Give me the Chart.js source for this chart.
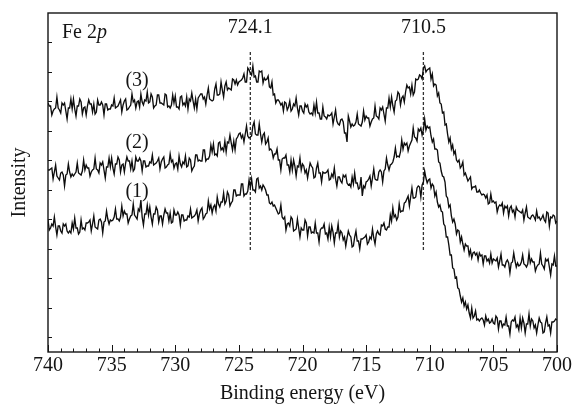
<!DOCTYPE html>
<html>
<head>
<meta charset="utf-8">
<script src="https://cdn.jsdelivr.net/npm/chart.js@4.4.1/dist/chart.umd.min.js"></script>
<style>
  html, body { margin: 0; padding: 0; background: #fff; }
  #wrap { width: 574px; height: 406px; }
</style>
</head>
<body>
<div id="wrap"><canvas id="c" width="574" height="406"></canvas></div>
<script>
// Binding energy grid (eV), 740 -> 700 in 0.1 eV steps
const E_START = 740, E_STEP = 0.1, N_POINTS = 401;
const energies = Array.from({length: N_POINTS}, (_, i) => +(E_START - E_STEP * i).toFixed(1));

// Intensity (arbitrary units, offset-stacked); one row = 1 eV
const series3 = [
 249,246,246,237,241,243,244,255,244,242,
 239,249,247,249,241,233,244,244,253,243,
 253,243,236,246,246,253,250,238,244,245,
 237,246,252,248,248,240,248,238,240,252,
 247,247,250,247,237,248,248,242,243,243,
 247,246,254,244,245,246,249,252,240,247,
 251,253,242,243,245,247,258,250,252,244,
 250,251,245,258,250,247,252,251,260,249,
 250,258,255,244,246,247,257,257,249,249,
 248,247,258,257,245,246,244,247,257,249,
 256,245,245,243,255,256,247,249,246,255,
 243,253,251,259,251,244,253,243,254,256,
 258,258,253,255,248,257,264,253,252,251,
 252,263,268,257,257,258,270,262,255,266,
 270,262,264,263,262,273,272,268,272,267,
 270,271,272,274,278,270,270,284,282,279,
 277,286,275,276,270,270,281,280,281,269,
 274,272,273,276,265,264,270,257,258,249,
 252,252,250,247,249,241,250,249,242,245,
 251,241,243,248,246,254,244,237,246,246,
 241,239,248,245,247,240,238,239,237,247,
 239,250,239,239,233,233,245,236,235,233,
 237,236,237,239,228,235,242,231,228,227,
 232,233,230,219,219,210,236,231,225,228,
 226,227,230,238,228,227,226,230,241,232,
 236,234,234,226,230,233,234,246,236,235,
 233,244,242,245,238,231,244,244,254,245,
 255,246,240,251,252,260,258,247,254,256,
 250,260,267,264,265,258,267,257,260,273,
 272,273,277,276,273,284,286,280,282,283,
 284,273,278,266,268,267,256,259,249,248,
 239,240,227,228,218,210,214,203,207,198,
 201,192,190,192,184,186,190,177,179,175,
 171,173,175,163,165,165,166,160,160,162,
 159,157,158,157,154,157,148,149,158,150,
 151,149,150,140,145,147,146,149,139,146,
 144,146,136,144,146,140,142,135,145,142,
 141,140,139,142,132,139,145,135,134,133,
 136,137,135,132,141,134,135,132,134,137,
 132,130,140,139,126,135,134,137,136,129,
 131
];
const series2 = [
 182,182,183,184,173,180,187,176,174,172,
 179,180,177,166,177,178,188,180,175,178,
 176,178,180,189,179,178,177,181,192,182,
 187,184,184,176,180,182,183,194,183,182,
 179,189,187,190,182,174,185,185,194,185,
 194,184,178,188,188,195,192,180,187,188,
 180,189,195,191,191,183,191,181,183,195,
 191,191,194,191,181,191,191,185,186,186,
 190,189,197,187,188,189,191,194,183,190,
 193,195,184,185,187,188,198,190,192,184,
 188,189,183,196,188,185,190,188,196,185,
 186,194,192,181,184,186,197,197,191,192,
 191,191,202,202,191,193,193,196,207,200,
 208,197,198,196,209,210,202,204,201,211,
 200,210,209,217,209,202,211,202,213,215,
 218,219,214,217,210,218,226,216,214,215,
 216,226,230,218,217,217,228,218,210,217,
 219,208,210,214,202,203,201,194,198,198,
 203,192,192,182,193,194,194,197,187,187,
 180,192,182,192,186,176,186,185,194,182,
 188,186,179,182,174,182,189,186,184,174,
 175,184,189,179,179,170,180,179,179,180,
 182,172,173,178,175,184,173,166,175,175,
 171,169,177,175,177,169,167,168,165,175,
 168,179,169,169,163,164,175,156,166,164,
 170,171,173,176,166,174,183,173,172,172,
 180,182,180,170,181,183,194,187,182,187,
 188,190,195,204,195,196,195,200,212,203,
 209,207,209,201,206,209,212,224,215,214,
 211,223,221,224,217,222,233,222,226,224,
 225,216,210,213,203,203,202,190,189,181,
 176,175,170,156,154,145,147,136,130,133,
 128,118,122,121,110,115,108,102,108,106,
 106,97,102,94,99,100,97,99,92,99,
 96,97,88,96,96,91,93,89,98,89,
 93,92,91,94,85,91,98,87,87,85,
 90,92,89,79,89,90,99,91,85,89,
 86,87,90,97,88,87,85,88,99,89,
 93,90,90,81,85,87,88,99,88,86,
 83,93,91,93,85,77,88,87,96,86,
 86
];
const series1 = [
 132,122,124,128,126,135,125,117,126,126,
 121,119,128,126,128,121,119,121,119,129,
 123,134,124,124,118,120,132,123,124,122,
 129,129,130,132,121,128,136,125,124,123,
 132,133,130,119,130,131,141,133,128,132,
 131,132,135,143,133,133,131,135,146,136,
 141,138,138,129,133,136,137,148,137,135,
 133,143,141,152,135,127,138,138,147,137,
 145,135,128,138,138,145,142,130,136,136,
 128,137,143,139,139,131,139,129,130,142,
 137,137,140,137,127,137,137,131,132,132,
 136,135,143,134,135,136,138,142,131,138,
 142,144,133,135,138,139,151,143,147,139,
 145,147,141,155,148,145,150,150,159,148,
 151,160,157,146,149,151,162,162,156,157,
 157,157,168,168,156,158,158,161,172,165,
 173,162,162,160,173,174,164,166,162,167,
 165,162,157,157,149,148,150,146,147,144,
 141,138,139,147,135,133,135,122,128,129,
 126,135,133,121,122,123,133,124,115,124,
 122,122,132,129,116,125,125,119,120,119,
 129,119,119,110,122,124,124,128,118,119,
 113,125,115,126,120,109,119,119,128,115,
 121,119,112,115,106,114,121,117,115,105,
 106,115,121,111,111,103,113,113,114,115,
 117,108,110,115,113,123,114,108,118,121,
 118,117,127,126,129,123,122,125,125,137,
 131,144,135,137,132,135,148,140,141,141,
 149,150,153,156,146,155,164,154,154,155,
 164,166,165,155,167,170,181,174,169,172,
 173,164,168,166,156,160,150,145,147,141,
 140,128,126,115,115,107,97,97,84,83,
 74,75,64,63,56,50,54,46,50,43,
 47,39,34,44,34,36,41,32,33,31,
 33,34,32,27,36,31,33,29,30,33,
 29,28,36,34,23,31,31,25,28,27,
 35,26,26,18,30,32,31,35,25,27,
 22,34,24,34,29,19,28,28,38,26,
 33,31,24,27,19,27,34,30,29,19,
 20,29,35,26,27,19,30,30,31,33,
 32
];
[series1, series2, series3].forEach((s, k) => {
  if (s.length !== N_POINTS) throw new Error('series' + (k + 1) + ' has ' + s.length + ' values');
});

// Peak markers
const peakEnergies = [724.1, 710.5];
const peakLabels = ["724.1", "710.5"];
const peakLineRange = [102, 302];
const peakLabelY = 324;

// Series labels
const seriesLabels = ["(1)", "(2)", "(3)"];
const seriesLabelX = 733.0;
const seriesLabelY = [160, 209, 271];

// Panel label
const panelLabelX = 738.9;
const panelLabelY = 319;

// Axes
const xMajorTicks = [740, 735, 730, 725, 720, 715, 710, 705, 700];
const xMinorTicks = Array.from({length: 41}, (_, i) => 700 + i);
const yTicks = [15, 44.5, 74, 103.5, 133, 162.5, 192, 221.5, 251, 280.5, 310];
const Y_MIN = 0, Y_MAX = 339;

const FONT = '"Liberation Serif", "Times New Roman", serif';
const INK = '#141414';

function toXY(vals) { return vals.map((v, i) => ({x: energies[i], y: v})); }

const datasets = [
  {data: toXY(series3)}, {data: toXY(series2)}, {data: toXY(series1)}
].map(d => Object.assign(d, {
  borderColor: '#0d0d0d', borderWidth: 1.35, pointRadius: 0, tension: 0, fill: false
}));
peakEnergies.forEach(e => datasets.push({
  data: [{x: e, y: peakLineRange[0]}, {x: e, y: peakLineRange[1]}],
  borderColor: '#333', borderWidth: 1.3, borderDash: [3, 2], pointRadius: 0, fill: false
}));

const decor = {
  id: 'decor',
  afterDraw(chart) {
    const {ctx, chartArea: a, scales: {x, y}} = chart;
    ctx.save();
    ctx.strokeStyle = INK;
    ctx.lineWidth = 1.4;
    ctx.strokeRect(a.left, a.top, a.right - a.left, a.bottom - a.top);
    ctx.lineWidth = 1;
    ctx.beginPath();
    xMinorTicks.forEach(v => {
      const px = Math.round(x.getPixelForValue(v)) + 0.5;
      const len = xMajorTicks.includes(v) ? 7 : 3.5;
      ctx.moveTo(px, a.bottom); ctx.lineTo(px, a.bottom - len);
    });
    yTicks.forEach(v => {
      const py = Math.round(y.getPixelForValue(v)) + 0.5;
      ctx.moveTo(a.left, py); ctx.lineTo(a.left + 4, py);
    });
    ctx.stroke();

    ctx.fillStyle = INK;
    ctx.font = '20px ' + FONT;
    ctx.textBaseline = 'middle';
    ctx.textAlign = 'center';
    peakEnergies.forEach((e, i) => {
      ctx.fillText(peakLabels[i], x.getPixelForValue(e), y.getPixelForValue(peakLabelY));
    });
    seriesLabels.forEach((t, i) => {
      ctx.fillText(t, x.getPixelForValue(seriesLabelX), y.getPixelForValue(seriesLabelY[i]));
    });
    ctx.textAlign = 'left';
    let lx = x.getPixelForValue(panelLabelX);
    const ly = y.getPixelForValue(panelLabelY);
    ctx.fillText('Fe 2', lx, ly);
    lx += ctx.measureText('Fe 2').width;
    ctx.font = 'italic 20px ' + FONT;
    ctx.fillText('p', lx, ly);
    ctx.restore();
  }
};

new Chart(document.getElementById('c'), {
  type: 'line',
  data: {datasets},
  options: {
    responsive: false,
    animation: false,
    devicePixelRatio: 1,
    layout: {padding: {top: 13, right: 17, left: 0, bottom: 0}},
    plugins: {legend: {display: false}, tooltip: {enabled: false}},
    scales: {
      x: {
        type: 'linear', reverse: true, min: 700, max: 740,
        grid: {display: false, drawTicks: false},
        border: {display: false},
        ticks: {stepSize: 5, padding: 2, color: INK, font: {family: FONT, size: 20},
                callback: v => String(v), maxRotation: 0},
        title: {display: true, text: 'Binding energy (eV)', color: INK,
                font: {family: FONT, size: 20}, padding: {top: 0, bottom: 0}},
        afterFit: s => { s.height = 54; }
      },
      y: {
        type: 'linear', min: Y_MIN, max: Y_MAX,
        grid: {display: false, drawTicks: false},
        border: {display: false},
        ticks: {display: false},
        title: {display: true, text: 'Intensity', color: INK,
                font: {family: FONT, size: 20}, padding: {top: 8, bottom: 0}},
        afterFit: s => { s.width = 48; }
      }
    }
  },
  plugins: [decor]
});
</script>
</body>
</html>
